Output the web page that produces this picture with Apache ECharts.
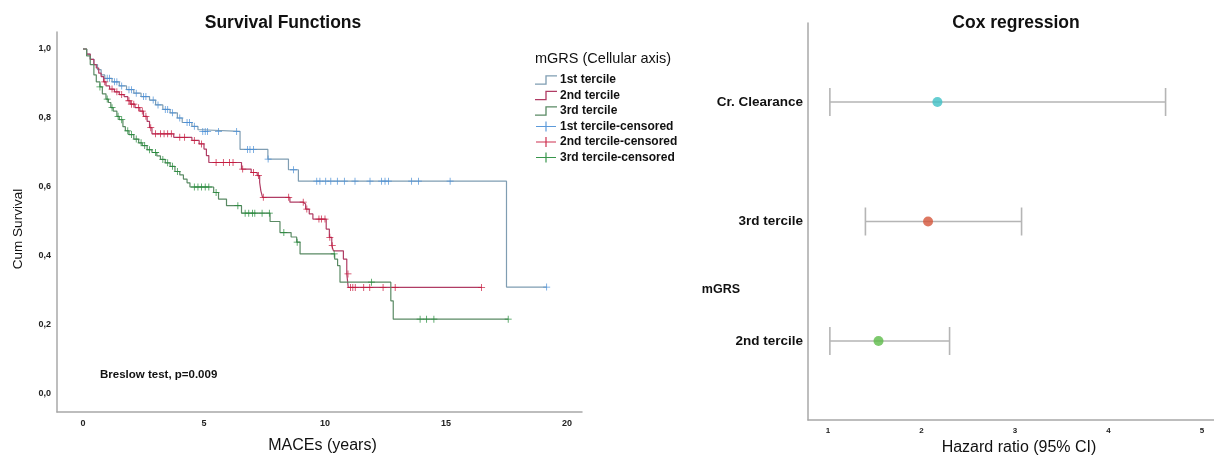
<!DOCTYPE html>
<html>
<head>
<meta charset="utf-8">
<script src="https://cdn.jsdelivr.net/npm/echarts@6/dist/echarts.min.js"></script>
<style>
html,body{margin:0;padding:0;background:#fff;}
#chart{width:1214px;height:456px;}
</style>
</head>
<body>
<div id="chart"></div>
<script>
// ---- Kaplan-Meier data (time in years, cumulative survival) ----
const km1 = [[0,1],[0.15,0.985],[0.3,0.97],[0.45,0.955],[0.6,0.94],[0.75,0.925],[0.9,0.915],[1.2,0.905],[1.5,0.893],[1.8,0.882],[2.1,0.872],[2.4,0.862],[2.75,0.852],[3.0,0.838],[3.3,0.825],[3.6,0.815],[3.9,0.8],[4.1,0.787],[4.5,0.776],[4.75,0.766],[4.9,0.761],[6.49,0.709],[7.64,0.681],[8.49,0.65],[8.9,0.617],[17.5,0.31],[19.16,0.31]];
const km2 = [[0,1],[0.15,0.985],[0.3,0.97],[0.45,0.955],[0.55,0.945],[0.65,0.93],[0.75,0.92],[0.85,0.905],[0.95,0.893],[1.1,0.884],[1.3,0.876],[1.5,0.868],[1.7,0.862],[1.85,0.85],[1.95,0.84],[2.15,0.83],[2.35,0.82],[2.5,0.805],[2.65,0.79],[2.75,0.772],[2.85,0.754],[3.75,0.744],[4.5,0.735],[4.8,0.725],[5.0,0.71],[5.1,0.691],[5.2,0.671],[6.55,0.652],[6.95,0.642],[7.2,0.633],[7.3,0.613],[7.35,0.589],[7.42,0.57],[8.55,0.556],[9.1,0.551],[9.2,0.536],[9.35,0.522],[9.5,0.507],[10.05,0.478],[10.18,0.454],[10.28,0.43],[10.35,0.415],[10.76,0.391],[10.9,0.348],[10.96,0.309],[16.47,0.309]];
const km3 = [[0,1],[0.15,0.98],[0.3,0.955],[0.45,0.925],[0.55,0.905],[0.7,0.89],[0.8,0.87],[0.95,0.855],[1.05,0.845],[1.15,0.83],[1.25,0.82],[1.4,0.805],[1.5,0.795],[1.65,0.775],[1.75,0.763],[1.9,0.752],[2.1,0.739],[2.3,0.728],[2.45,0.72],[2.65,0.708],[2.85,0.7],[3.05,0.69],[3.2,0.68],[3.4,0.67],[3.6,0.66],[3.8,0.645],[4.0,0.635],[4.15,0.623],[4.3,0.612],[4.42,0.6],[5.4,0.584],[5.6,0.565],[5.93,0.546],[6.55,0.524],[7.73,0.5],[8.14,0.468],[8.6,0.455],[8.83,0.44],[8.97,0.406],[10.4,0.391],[10.52,0.372],[10.62,0.324],[12.72,0.27],[12.82,0.217],[17.57,0.217]];

const cens1 = [[1.0,0.915],[1.1,0.915],[1.3,0.905],[1.4,0.905],[1.6,0.893],[1.9,0.882],[2.0,0.882],[2.2,0.872],[2.5,0.862],[2.6,0.862],[2.9,0.852],[3.1,0.838],[3.4,0.825],[3.5,0.825],[3.7,0.815],[4.0,0.8],[4.3,0.787],[4.4,0.787],[4.6,0.776],[4.95,0.761],[5.05,0.761],[5.15,0.761],[5.6,0.761],[6.35,0.761],[6.8,0.709],[6.9,0.709],[7.05,0.709],[7.65,0.681],[8.7,0.65],[9.66,0.617],[9.79,0.617],[10.03,0.617],[10.24,0.617],[10.51,0.617],[10.8,0.617],[11.24,0.617],[11.86,0.617],[12.34,0.617],[12.48,0.617],[12.62,0.617],[13.58,0.617],[13.86,0.617],[15.17,0.617],[19.16,0.31]];
const cens2 = [[0.9,0.905],[1.2,0.884],[1.4,0.876],[1.6,0.868],[1.9,0.85],[2.0,0.84],[2.1,0.84],[2.3,0.83],[2.45,0.82],[2.6,0.805],[2.8,0.772],[3.0,0.754],[3.2,0.754],[3.35,0.754],[3.5,0.754],[3.65,0.754],[4.0,0.744],[4.2,0.744],[4.6,0.735],[4.9,0.725],[5.5,0.671],[5.8,0.671],[6.05,0.671],[6.2,0.671],[6.6,0.652],[7.05,0.642],[7.25,0.633],[7.45,0.57],[8.5,0.57],[9.1,0.556],[9.25,0.536],[9.75,0.507],[9.85,0.507],[10.0,0.507],[10.2,0.454],[10.3,0.43],[10.95,0.348],[11.05,0.309],[11.15,0.309],[11.25,0.309],[11.6,0.309],[11.85,0.309],[12.4,0.309],[12.9,0.309],[16.47,0.309]];
const cens3 = [[0.7,0.89],[1.0,0.855],[1.2,0.83],[1.45,0.805],[1.6,0.795],[1.85,0.763],[2.0,0.752],[2.2,0.739],[2.4,0.728],[2.55,0.72],[2.75,0.708],[3.0,0.7],[3.3,0.68],[3.5,0.67],[3.7,0.66],[3.9,0.645],[4.6,0.6],[4.75,0.6],[4.9,0.6],[5.05,0.6],[5.2,0.6],[5.5,0.584],[6.4,0.546],[6.7,0.524],[6.85,0.524],[7.0,0.524],[7.1,0.524],[7.4,0.524],[7.7,0.524],[8.3,0.468],[8.85,0.44],[10.38,0.406],[11.92,0.324],[13.93,0.217],[14.2,0.217],[14.5,0.217],[17.57,0.217]];

const kmNames = ['1st tercile','2nd tercile','3rd tercile'];
const censNames = ['1st tercile-censored','2nd tercile-censored','3rd tercile-censored'];
const xTicks = [0,5,10,15,20];
const yTicks = [0,0.2,0.4,0.6,0.8,1.0];

// ---- Cox regression data ----
const coxLabels = ['Cr. Clearance','3rd tercile','2nd tercile'];
const coxRow = [3, 2, 1];
const coxHR = [2.17, 2.07, 1.54];
const coxLow = [1.02, 1.40, 1.02];
const coxHigh = [4.61, 3.07, 2.30];
const coxGroupLabel = 'mGRS';
const coxGroupRow = 1.43;
const hrTicks = [1,2,3,4,5];

const lineColors = ['#7f9db2','#b03c64','#5a8a64'];
const censColors = ['#4a8fd6','#c8183c','#228b38'];
const coxColors = ['#3fc0c6','#d4553a','#5cbc48'];
const FONT = 'Liberation Sans, Arial, sans-serif';

const plusPath = 'path://M4,0 L5,0 L5,4 L9,4 L9,5 L5,5 L5,9 L4,9 L4,5 L0,5 L0,4 L4,4 Z';
const legendPlus = 'path://M0,4.4 L9.4,4.4 L9.4,0 L10.6,0 L10.6,4.4 L20,4.4 L20,5.6 L10.6,5.6 L10.6,10 L9.4,10 L9.4,5.6 L0,5.6 Z';
const legendStep = 'path://M0,8.4 L9.4,8.4 L9.4,1 L20,1 L20,2.2 L10.6,2.2 L10.6,9.6 L0,9.6 Z';

const chart = echarts.init(document.getElementById('chart'), null, {renderer:'canvas'});

const series = [];
[km1, km2, km3].forEach((d, i) => {
  series.push({
    name: kmNames[i], type: 'line', step: 'end', data: d,
    xAxisIndex: 0, yAxisIndex: 0, showSymbol: false, symbol: 'none',
    lineStyle: {color: lineColors[i], width: 1.2}, itemStyle: {color: lineColors[i]},
    z: 2, animation: false
  });
});
[cens1, cens2, cens3].forEach((d, i) => {
  series.push({
    name: censNames[i], type: 'scatter', data: d,
    xAxisIndex: 0, yAxisIndex: 0, symbol: plusPath, symbolSize: 7,
    itemStyle: {color: censColors[i], opacity: 0.9}, z: 3, animation: false
  });
});

// Cox error bars
series.push({
  type: 'custom', xAxisIndex: 1, yAxisIndex: 1,
  data: coxRow.map((r, i) => [r, coxLow[i], coxHigh[i]]),
  encode: {x: [1, 2], y: 0},
  renderItem: function (params, api) {
    const y = api.value(0), lo = api.value(1), hi = api.value(2);
    const a = api.coord([lo, y]), b = api.coord([hi, y]);
    const h = 14;
    const st = {stroke: '#b5b5b5', lineWidth: 1.6};
    return {type: 'group', children: [
      {type: 'line', shape: {x1: a[0], y1: a[1], x2: b[0], y2: b[1]}, style: st},
      {type: 'line', shape: {x1: a[0], y1: a[1] - h, x2: a[0], y2: a[1] + h}, style: st},
      {type: 'line', shape: {x1: b[0], y1: b[1] - h, x2: b[0], y2: b[1] + h}, style: st}
    ]};
  },
  z: 2, animation: false
});
series.push({
  type: 'scatter', xAxisIndex: 1, yAxisIndex: 1, symbol: 'circle', symbolSize: 10,
  data: coxRow.map((r, i) => ({value: [coxHR[i], r], itemStyle: {color: coxColors[i]}})),
  z: 3, animation: false
});

const rowVals = coxRow.concat([coxGroupRow]);
const rowText = coxLabels.concat([coxGroupLabel]);

const option = {
  backgroundColor: '#ffffff',
  animation: false,
  textStyle: {fontFamily: FONT},
  title: [
    {text: 'Survival Functions', left: 278, top: 9, textAlign: 'center',
     textStyle: {fontSize: 17.5, fontWeight: 'bold', color: '#111', fontFamily: FONT}},
    {text: 'Cox regression', left: 1011, top: 9, textAlign: 'center',
     textStyle: {fontSize: 17.5, fontWeight: 'bold', color: '#111', fontFamily: FONT}},
    {text: 'mGRS (Cellular axis)', left: 530, top: 46,
     textStyle: {fontSize: 14.5, fontWeight: 'normal', color: '#111', fontFamily: FONT}},
    {text: 'Breslow test, p=0.009', left: 95, top: 364,
     textStyle: {fontSize: 11.5, fontWeight: 'bold', color: '#111', fontFamily: FONT}}
  ],
  legend: {
    orient: 'vertical', left: 530, top: 69, itemWidth: 22, itemHeight: 10, itemGap: 3.5,
    data: [
      {name: kmNames[0], icon: legendStep}, {name: kmNames[1], icon: legendStep}, {name: kmNames[2], icon: legendStep},
      {name: censNames[0], icon: legendPlus}, {name: censNames[1], icon: legendPlus}, {name: censNames[2], icon: legendPlus}
    ],
    textStyle: {fontSize: 12, fontWeight: 'bold', color: '#111', fontFamily: FONT, padding: [0,0,0,-2]},
    selectedMode: false
  },
  grid: [
    {left: 57, top: 32, width: 525, height: 380, outerBoundsMode: 'none', containLabel: false},
    {left: 808, top: 23, width: 406, height: 397, outerBoundsMode: 'none', containLabel: false}
  ],
  xAxis: [
    {type: 'value', gridIndex: 0, min: -1.074, max: 20.62,
     name: 'MACEs (years)', nameLocation: 'middle', nameGap: 26,
     nameTextStyle: {fontSize: 16, color: '#111', fontFamily: FONT, padding: [0,0,0,6]},
     axisLine: {show: true, onZero: false, lineStyle: {color: '#a8a8a8', width: 1.5}},
     axisTick: {show: false}, splitLine: {show: false},
     axisLabel: {customValues: xTicks, fontSize: 9, fontWeight: 'bold', color: '#222', margin: 7}},
    {type: 'value', gridIndex: 1, min: 0.786, max: 5.128,
     name: 'Hazard ratio (95% CI)', nameLocation: 'middle', nameGap: 20,
     nameTextStyle: {fontSize: 16, color: '#111', fontFamily: FONT, padding: [0,0,0,16]},
     axisLine: {show: true, onZero: false, lineStyle: {color: '#a8a8a8', width: 1.5}},
     axisTick: {show: false}, splitLine: {show: false},
     axisLabel: {customValues: hrTicks, fontSize: 8, fontWeight: 'bold', color: '#222', margin: 7}}
  ],
  yAxis: [
    {type: 'value', gridIndex: 0, min: -0.0522, max: 1.0493,
     name: 'Cum Survival', nameLocation: 'middle', nameGap: 32, nameRotate: 90,
     nameTextStyle: {fontSize: 13.5, color: '#111', fontFamily: FONT, padding: [0, 14, 0, 0]},
     axisLine: {show: true, onZero: false, lineStyle: {color: '#a8a8a8', width: 1.5}},
     axisTick: {show: false}, splitLine: {show: false},
     axisLabel: {customValues: yTicks, fontSize: 9, fontWeight: 'bold', color: '#222', margin: 6,
       formatter: v => v.toFixed(1).replace('.', ',')}},
    {type: 'value', gridIndex: 1, min: 0.339, max: 3.661,
     axisLine: {show: true, onZero: false, lineStyle: {color: '#a8a8a8', width: 1.5}},
     axisTick: {show: false}, splitLine: {show: false},
     axisLabel: {customValues: rowVals, margin: 5,
       formatter: v => {
         const idx = rowVals.findIndex(r => Math.abs(r - v) < 1e-6);
         const t = idx >= 0 ? rowText[idx] : '';
         return t === coxGroupLabel ? '{g|' + t + '}' : '{c|' + t + '}';
       },
       rich: {
         c: {fontSize: 13.5, fontWeight: 'bold', color: '#111', fontFamily: FONT},
         g: {fontSize: 12.5, fontWeight: 'bold', color: '#111', fontFamily: FONT, padding: [0, 63, 0, 0]}
       }}}
  ],
  series: series
};
chart.setOption(option);
</script>
</body>
</html>
